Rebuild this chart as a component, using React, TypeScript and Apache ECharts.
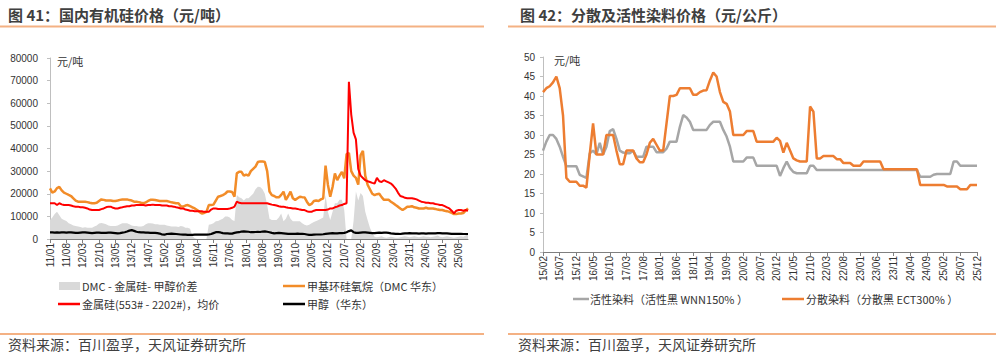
import React, { useEffect, useRef } from "react";
import * as echarts from "echarts";

// ---------- Left chart: 国内有机硅价格 (monthly, 2011/01 – 2025/12) ----------
const leftStartYear = 2011;
const leftMonthCount = 180;

const dmcPrice = [
  22400, 20500, 21000, 22500, 23000, 21500, 20500, 20000, 19500, 19000, 18000, 17000,
  16500, 16500, 16500, 16500, 16300, 16000, 15800, 15800, 16000, 16800, 17500, 17300,
  17000, 17000, 17000, 16800, 16800, 17000, 17300, 17500, 17500, 17500, 17200, 17000,
  16500, 16500, 16300, 16000, 15800, 16200, 16800, 17300, 17300, 17200, 17000, 16800,
  16800, 16800, 16800, 16500, 16200, 16000, 15800, 15800, 14500, 14300, 14800, 15000,
  14500, 14000, 13500, 12800, 12000, 11300, 11500, 12000, 15000, 15000, 15200, 17000,
  18700, 19000, 19400, 20000, 21000, 21000, 20800, 18700, 29000, 29700, 29700, 28000,
  28500, 28000, 30000, 31000, 32000, 34000, 34300, 34300, 34000, 30000, 21000, 19400,
  19000, 18400, 18400, 19500, 20900, 17300, 19000, 20900, 18000, 17300, 18000, 18700,
  18500, 18400, 16500, 15000, 15500, 16800, 17000, 16800, 17500, 18000, 32400, 24000,
  18700, 23000, 29000, 26000, 28000, 29700, 26800, 37500, 38000, 30000, 28000, 27000,
  24000, 37000, 39000, 28000, 24000, 22000, 20000, 19400, 19800, 20000, 18500, 17300,
  17300, 17300, 16500, 15800, 15000, 14300, 13500, 12800, 13500, 14300, 14300, 14500,
  14000, 13800, 13500, 13500, 13500, 13800, 13500, 13500, 13500, 13300, 13000, 12800,
  12800, 12500, 12300, 12000, 11500, 11000, 11000, 11300, 11300, 11500, 12500, 13500,
];

const siliconPrice = [
  15800, 15800, 15800, 15000, 15800, 15300, 15000, 15000, 15000, 14800, 14500, 14300,
  14300, 14000, 14000, 13800, 13500, 13000, 12800, 12800, 12800, 12800, 13200, 13500,
  14000, 14300, 14300, 13800, 13500, 13500, 13800, 14000, 14300, 14500, 14500, 14800,
  14800, 15000, 15000, 15000, 15000, 14800, 15000, 15000, 15200, 15000, 15000, 15000,
  14800, 14800, 14800, 14500, 14500, 14300, 14000, 13800, 13500, 13500, 13000, 12800,
  12500, 12500, 12300, 12300, 12300, 12300, 12000, 12000, 12000, 13000, 13500, 13500,
  13300, 13300, 13300, 13300, 13300, 13500, 13800, 14300, 16500, 16000, 15800, 15800,
  15800, 15800, 15800, 15800, 15800, 15800, 15800, 15800, 15800, 15800, 15500, 15200,
  15000, 14800, 14500, 14300, 14300, 14000, 13800, 13700, 13500, 13500, 13300, 13000,
  12800, 12800, 12300, 12000, 12000, 12500, 12800, 12800, 12800, 12800, 12800, 13000,
  13500, 13500, 14000, 14300, 14800, 15000, 15500, 15800, 69500, 55000, 47000, 44000,
  31000, 28000, 27000, 26000, 25500, 25200, 24800, 24500, 27000, 25500, 25200, 26000,
  25500, 25000, 24500, 23500, 22300, 20500, 19000, 18700, 18200, 18000, 18000, 18000,
  17800, 17500, 17000, 16500, 16300, 16000, 16000, 15800, 15800, 15500, 15300, 15000,
  15000, 14500, 14000, 13500, 12500, 11300, 12500, 12800, 12800, 12500, 12800, 12500,
];

const methanolPrice = [
  2900, 2900, 2800, 2900, 2800, 2900, 2900, 2800, 2900, 2900, 2800, 2700,
  2700, 2800, 2900, 2900, 2800, 2700, 2600, 2700, 2800, 2800, 2700, 2700,
  2700, 2800, 2800, 2700, 2600, 2500, 2600, 2800, 3000, 3300, 3700, 3900,
  3600, 3200, 3000, 2900, 2900, 2800, 2800, 2700, 2700, 2700, 2600, 2400,
  2000, 1900, 2200, 2300, 2400, 2300, 2200, 2100, 2000, 1900, 1900, 1800,
  1800, 1800, 1900, 1900, 1900, 1900, 1900, 1900, 2000, 2200, 2600, 3000,
  3000, 2900, 2600, 2500, 2500, 2400, 2400, 2700, 2900, 3000, 3300, 3400,
  3300, 3200, 3000, 3000, 3100, 3200, 3100, 3300, 3400, 3200, 3000, 2700,
  2500, 2600, 2700, 2600, 2500, 2400, 2300, 2300, 2300, 2300, 2400, 2300,
  2300, 2200, 2000, 1800, 1800, 1900, 2000, 2000, 2000, 2100, 2300, 2400,
  2500, 2600, 2500, 2500, 2600, 2600, 2700, 3000, 3500, 3800, 3000, 2700,
  2700, 2800, 2900, 2900, 2800, 2700, 2600, 2600, 2700, 2800, 2700, 2800,
  2800, 2700, 2500, 2400, 2300, 2300, 2200, 2400, 2500, 2500, 2600, 2500,
  2500, 2500, 2400, 2500, 2500, 2400, 2500, 2500, 2500, 2500, 2600, 2600,
  2500, 2500, 2500, 2400, 2300, 2300, 2300, 2300, 2300, 2200, 2200, 2200,
];

const dmcSpread = [
  8400, 9500, 11000, 12000, 10500, 9000, 8400, 8000, 7000, 6500, 6000, 5700,
  5500, 5300, 5000, 5200, 5000, 5000, 5000, 5500, 6000, 6800, 7100, 6800,
  6500, 6000, 5700, 5700, 5800, 6000, 6500, 7000, 7000, 7000, 6500, 6000,
  5700, 5700, 5500, 5500, 5700, 6500, 7000, 7000, 6800, 6500, 6500, 6300,
  6300, 6300, 6000, 5700, 5500, 5500, 5500, 5300, 5700, 5500, 5000, 5000,
  4500, 1200, 300, 0, 0, 0, 0, 0, 6300, 6500, 7000, 7800,
  8000, 8500, 9000, 10000, 10000, 9500, 8400, 8000, 19400, 18500, 18000, 17000,
  18000, 18000, 19000, 20000, 22000, 23100, 23000, 22000, 20000, 15000, 9000, 8400,
  8400, 8400, 9500, 11300, 7800, 9000, 11300, 9000, 7800, 7800, 7800, 7800,
  7000, 6300, 6000, 6300, 7000, 7500, 8000, 8400, 9000, 9500, 19400, 12000,
  8400, 12000, 15800, 15800, 17300, 17300, 12800, 0, 0, 0, 8000, 21000,
  17000, 20300, 19000, 12000, 8400, 5000, 2600, 1000, 800, 1000, 1200, 800,
  600, 800, 1000, 800, 600, 500, 800, 1000, 1200, 1000, 800, 1000,
  1200, 1000, 800, 1000, 1200, 1000, 1000, 800, 1000, 1200, 1500, 1000,
  800, 1000, 1200, 1000, 800, 600, 800, 1000, 1200, 1000, 1500, 2500,
];

// ---------- Right chart: 分散及活性染料价格 (monthly, 2015/02 – 2025/12) ----------
const rightStartYear = 2015;
const rightStartMonth = 2;
const rightMonthCount = 131;

const disperseDye = [
  41, 42, 42.5, 43.5, 45, 42, 35, 19, 18, 18, 18,
  17, 17, 16.5, 25, 33, 25, 25, 25, 30, 30, 30, 26,
  22.5, 22.5, 26, 26, 26, 24, 23, 23, 25, 28, 29, 27.5,
  26, 26, 33, 40, 40, 40.3, 42, 42, 42, 42, 40.3, 40.3,
  41, 41.4, 41.5, 44, 46, 45, 41, 38.5, 38, 36, 30, 30,
  30, 30, 31, 31, 31, 28.3, 28.3, 28.3, 28.3, 28.3, 28.3, 29.3,
  28.5, 25.5, 28, 26, 24, 23.5, 23.2, 23.2, 23.2, 37.3, 36, 24,
  24, 24.6, 24.6, 24.6, 24.6, 23.8, 23.8, 22.8, 22.8, 22.8, 22.1, 22.1,
  22.1, 23.2, 23.2, 23.2, 23.2, 23.2, 23.2, 21.2, 21.2, 21.2, 21.2, 21.2,
  21.2, 21.2, 21.2, 21.2, 21.2, 21.2, 17.2, 17.2, 17.2, 17.2, 17.2, 17.2,
  17.2, 17.2, 16.8, 16.8, 16.8, 16.8, 16.1, 16.1, 16.1, 17.2, 17.2, 17.2,
];

const reactiveDye = [
  26, 28.3, 30, 30, 29, 27, 24.4, 22, 22, 22, 22,
  19.8, 19.4, 19, 25.3, 26, 25, 28, 25, 27, 31, 31.5, 29,
  26, 25.5, 25.3, 25.3, 26, 24.4, 24.4, 24.4, 27, 27, 27, 25.6,
  25.6, 25.6, 26.5, 28.3, 28.3, 28.3, 32.1, 35.1, 34.5, 33.4, 31.3, 31.3,
  31.3, 31.3, 31.3, 32.6, 33.4, 33.4, 33.4, 31.3, 29.6, 27, 23.2, 23.2,
  23.2, 23.2, 24.2, 24.2, 24.2, 22.1, 22.1, 22.1, 22.1, 22.1, 22.1, 22.1,
  19.5, 21.5, 23.2, 21.5, 20.5, 20.2, 20.2, 20.2, 20.2, 22.1, 22.1, 21,
  21, 21, 21, 21, 21, 21, 21, 21, 21, 21, 21, 21,
  21, 21, 21, 21, 21, 21, 21, 21, 21, 21, 21, 21,
  21, 21, 21, 21, 21, 21, 19.3, 19.3, 19.3, 19.3, 19.8, 20,
  20, 20, 20, 20, 23.2, 23.2, 22.1, 22.1, 22.1, 22.1, 22.1, 22.1,
];

const leftTitle = "图 41：国内有机硅价格（元/吨）";
const rightTitle = "图 42：分散及活性染料价格（元/公斤）";
const sourceText = "资料来源：百川盈孚，天风证券研究所";
const unitLabel = "元/吨";
const leftLegendNames = ["DMC - 金属硅- 甲醇价差", "甲基环硅氧烷（DMC 华东）", "金属硅(553# - 2202#)，均价", "甲醇（华东）"];
const rightLegendNames = ["活性染料（活性黑 WNN150% ）", "分散染料（分散黑 ECT300% ）"];

function monthLabels(y0: number, m0: number, n: number): string[] {
  const out: string[] = [];
  let y = y0;
  let m = m0;
  for (let k = 0; k < n; k++) {
    out.push(String(y % 100).padStart(2, "0") + "/" + String(m).padStart(2, "0"));
    m++;
    if (m > 12) { m = 1; y++; }
  }
  return out;
}

const leftCats = monthLabels(leftStartYear, 1, leftMonthCount);
const rightCats = monthLabels(rightStartYear, rightStartMonth, rightMonthCount);

const C_DMC = "#F28C28";
const C_SI = "#FF0000";
const C_MEOH = "#000000";
const C_SPREAD = "#D9D9D9";
const C_REACT = "#A6A6A6";
const C_DISP = "#ED7D31";
const RULE = "#F4B183";
const TXT = "#404040";
const CJK = "'Noto Sans CJK SC', 'Liberation Sans', sans-serif";
const LAT = "'Liberation Sans', 'Noto Sans CJK SC', sans-serif";

export default function App() {
  const ref = useRef<HTMLDivElement>(null);
  useEffect(() => {
    if (!ref.current) return;
    const chart = echarts.init(ref.current, undefined, { renderer: "svg" });

    const xCommon = (interval: number) => ({
      type: "category" as const,
      boundaryGap: false,
      axisLine: { lineStyle: { color: "#7F7F7F", width: 1 } },
      axisTick: { interval, length: 4, lineStyle: { color: "#7F7F7F" } },
      axisLabel: { interval, rotate: 90, fontSize: 10, color: "#333", margin: 4, fontFamily: LAT },
      splitLine: { show: false },
    });
    const yCommon = (max: number, interval: number, margin: number) => ({
      type: "value" as const,
      min: 0,
      max,
      interval,
      splitLine: { show: false },
      axisLine: { show: true, lineStyle: { color: "#BFBFBF" } },
      axisTick: { show: true, length: 3, lineStyle: { color: "#BFBFBF" } },
      axisLabel: {
        fontSize: 10, color: "#333", margin, fontFamily: LAT,
        formatter: (v: number) => String(v),
      },
    });

    const text = (x: number, y: number, t: string, size: number, opts: any = {}) => ({
      type: "text",
      x,
      y,
      style: {
        text: t,
        fill: opts.fill || TXT,
        fontSize: size,
        fontFamily: opts.family || CJK,
        fontWeight: opts.weight || "normal",
        verticalAlign: "middle",
        align: "left",
      },
    });
    const hline = (x1: number, x2: number, y: number, color: string, w: number) => ({
      type: "line",
      shape: { x1, y1: y, x2, y2: y },
      style: { stroke: color, lineWidth: w },
    });

    const graphics: any[] = [
      text(8, 14, leftTitle, 15, { weight: "bold" }),
      text(520, 14, rightTitle, 15, { weight: "bold" }),
      hline(0, 484, 26.5, RULE, 2),
      hline(508, 996, 26.5, RULE, 2),
      hline(0, 484, 334, RULE, 2),
      hline(508, 996, 334, RULE, 2),
      text(8, 344, sourceText, 14),
      text(518, 344, sourceText, 14),
      text(57, 61, unitLabel, 11, { fill: "#333" }),
      text(554, 60, unitLabel, 11, { fill: "#333" }),
      // left legend
      { type: "rect", shape: { x: 59, y: 282, width: 21, height: 8 }, style: { fill: C_SPREAD } },
      text(82, 286, leftLegendNames[0], 11, { fill: "#333" }),
      hline(283, 305, 286, C_DMC, 2.5),
      text(307, 286, leftLegendNames[1], 11, { fill: "#333" }),
      hline(58, 80, 304, C_SI, 2.5),
      text(82, 304, leftLegendNames[2], 11, { fill: "#333" }),
      hline(283, 305, 304, C_MEOH, 2.5),
      text(307, 304, leftLegendNames[3], 11, { fill: "#333" }),
      // right legend
      hline(573, 589, 299, C_REACT, 2.5),
      text(590, 299, rightLegendNames[0], 11, { fill: "#333" }),
      hline(782, 804, 299, C_DISP, 2.5),
      text(806, 299, rightLegendNames[1], 11, { fill: "#333" }),
    ];

    const option: any = {
      animation: false,
      backgroundColor: "#FFFFFF",
      grid: [
        { left: 50, top: 58, width: 418, height: 181 },
        { left: 543, top: 57, width: 434, height: 195 },
      ],
      xAxis: [
        { ...xCommon(6), gridIndex: 0, data: leftCats },
        { ...xCommon(4), gridIndex: 1, data: rightCats },
      ],
      yAxis: [
        { ...yCommon(80000, 10000, 12), gridIndex: 0 },
        { ...yCommon(50, 5, 8), gridIndex: 1 },
      ],
      series: [
        {
          name: leftLegendNames[0], type: "line", xAxisIndex: 0, yAxisIndex: 0,
          data: dmcSpread, symbol: "none", lineStyle: { width: 0, color: C_SPREAD },
          itemStyle: { color: C_SPREAD }, areaStyle: { color: C_SPREAD, opacity: 1 }, z: 1,
        },
        {
          name: leftLegendNames[3], type: "line", xAxisIndex: 0, yAxisIndex: 0,
          data: methanolPrice, symbol: "none", lineStyle: { width: 2.2, color: C_MEOH }, z: 2,
        },
        {
          name: leftLegendNames[1], type: "line", xAxisIndex: 0, yAxisIndex: 0,
          data: dmcPrice, symbol: "none", lineStyle: { width: 2.5, color: C_DMC }, z: 3,
        },
        {
          name: leftLegendNames[2], type: "line", xAxisIndex: 0, yAxisIndex: 0,
          data: siliconPrice, symbol: "none", lineStyle: { width: 2, color: C_SI }, z: 4,
        },
        {
          name: rightLegendNames[0], type: "line", xAxisIndex: 1, yAxisIndex: 1,
          data: reactiveDye, symbol: "none", lineStyle: { width: 2.5, color: C_REACT }, z: 2,
        },
        {
          name: rightLegendNames[1], type: "line", xAxisIndex: 1, yAxisIndex: 1,
          data: disperseDye, symbol: "none", lineStyle: { width: 2.5, color: C_DISP }, z: 3,
        },
      ],
      graphic: graphics,
    };
    chart.setOption(option);
    return () => chart.dispose();
  }, []);

  return (
    <div
      ref={ref}
      style={{ position: "fixed", left: 0, top: 0, width: 999, height: 359, background: "#fff" }}
    />
  );
}
